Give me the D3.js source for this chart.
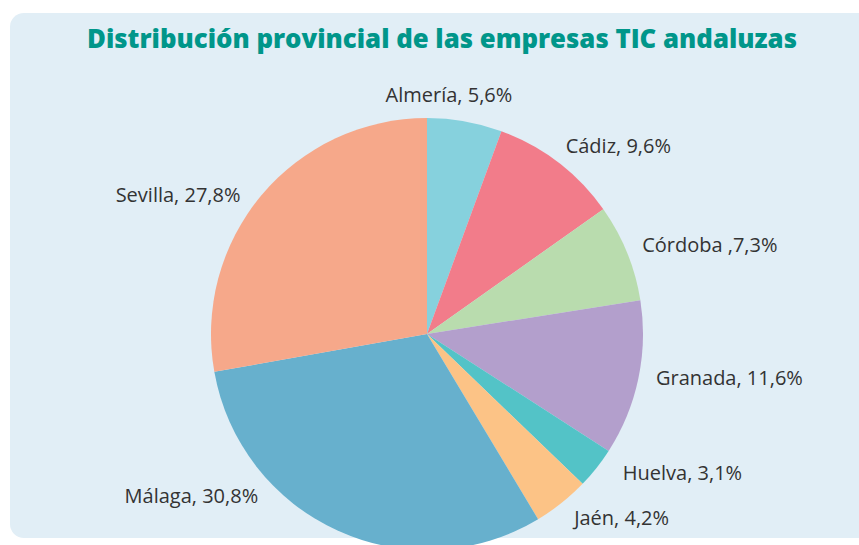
<!DOCTYPE html>
<html>
<head>
<meta charset="utf-8">
<script src="https://cdn.jsdelivr.net/npm/d3@7"></script>
<style>
  html, body { margin: 0; padding: 0; background: #ffffff; }
  svg { display: block; }
</style>
</head>
<body>
<svg id="chart" width="859" height="545"></svg>
<script>
// data, clockwise from 12 o'clock
const provincias = ["Almería", "Cádiz", "Córdoba", "Granada", "Huelva", "Jaén", "Málaga", "Sevilla"];
const porcentajes = [5.6, 9.6, 7.3, 11.6, 3.1, 4.2, 30.8, 27.8];
const etiquetas = ["Almería, 5,6%", "Cádiz, 9,6%", "Córdoba ,7,3%", "Granada, 11,6%",
  "Huelva, 3,1%", "Jaén, 4,2%", "Málaga, 30,8%", "Sevilla, 27,8%"];
const colores = ["#86d1dd", "#f27c8a", "#b9dcae", "#b39fcc", "#53c3c7", "#fcc386", "#67b0cd", "#f6a88a"];
const titulo = "Distribución provincial de las empresas TIC andaluzas";

const W = 859, H = 545;
const cx = 427, cy = 334, r = 216;
const labelR = r + 29;

const svg = d3.select("#chart");

// panel
svg.append("rect")
  .attr("x", 10).attr("y", 13)
  .attr("width", 870).attr("height", 525)
  .attr("rx", 14)
  .attr("fill", "#e1eef6");

svg.append("text")
  .attr("x", 442).attr("y", 48)
  .attr("text-anchor", "middle")
  .attr("font-family", "'Open Sans', sans-serif")
  .attr("font-weight", 800)
  .attr("font-size", 26)
  .attr("textLength", 710)
  .attr("lengthAdjust", "spacingAndGlyphs")
  .attr("fill", "#00968a")
  .text(titulo);

const data = provincias.map((p, i) => ({ name: p, value: porcentajes[i], label: etiquetas[i], color: colores[i] }));

const pie = d3.pie().value(d => d.value).sort(null);
const arc = d3.arc().innerRadius(0).outerRadius(r);
const arcs = pie(data);

const g = svg.append("g").attr("transform", `translate(${cx},${cy})`);

g.selectAll("path.slice")
  .data(arcs)
  .join("path")
  .attr("class", "slice")
  .attr("d", arc)
  .attr("fill", d => d.data.color);

// label layout: y from mid angle, x back on the label circle, small nudges
const nudge = {
  "Almería": [-31, 2], "Cádiz": [-8, 7], "Córdoba": [-2, 3], "Granada": [-1, -6],
  "Huelva": [5, -13], "Jaén": [-4, -8], "Málaga": [4, -61], "Sevilla": [4, 18]
};

const labels = arcs.map(d => {
  const a = (d.startAngle + d.endAngle) / 2;
  const n = nudge[d.data.name];
  const y = -labelR * Math.cos(a) + n[1];
  const dx = Math.sqrt(Math.max(0, labelR * labelR - y * y));
  const right = Math.sin(a) >= 0;
  let anchor, x;
  if (Math.abs(Math.cos(a)) > 0.95) {
    anchor = "middle";
    x = right ? dx : -dx;
  } else {
    anchor = right ? "start" : "end";
    x = right ? dx - 11 : -dx + 11;
  }
  return { text: d.data.label, x: x + n[0], y: y, anchor: anchor };
});

g.selectAll("text.lbl")
  .data(labels)
  .join("text")
  .attr("class", "lbl")
  .attr("x", d => d.x)
  .attr("y", d => d.y)
  .attr("dy", "0.35em")
  .attr("text-anchor", d => d.anchor)
  .attr("font-family", "'Open Sans', sans-serif")
  .attr("font-size", 20)
  .attr("fill", "#333333")
  .text(d => d.text);
</script>
</body>
</html>
